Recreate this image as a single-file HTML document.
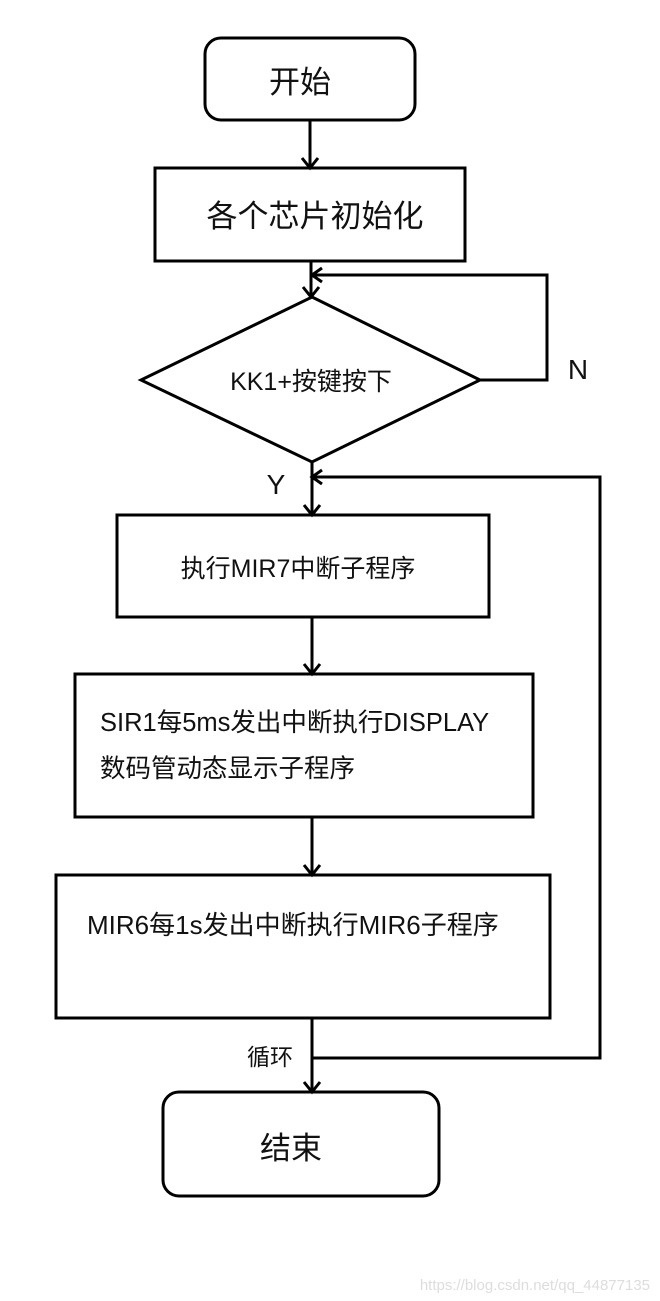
<!DOCTYPE html>
<html><head><meta charset="utf-8"><style>
body{margin:0;background:#fff;}
svg{display:block}
text{font-family:"Liberation Sans","Noto Sans CJK SC",sans-serif;fill:#111}
</style></head><body>
<svg width="660" height="1301" viewBox="0 0 660 1301" xmlns="http://www.w3.org/2000/svg">
<g fill="none" stroke="#000" stroke-width="3">
<rect x="205" y="38" width="210" height="82" rx="16"/>
<rect x="155" y="168" width="310" height="93"/>
<polygon points="312,297 480,380 312,462 141,380"/>
<rect x="117" y="515" width="372" height="102"/>
<rect x="75" y="674" width="458" height="143"/>
<rect x="56" y="875" width="494" height="143"/>
<rect x="163" y="1092" width="276" height="104" rx="16"/>
<path d="M310 120V168M302 158l8 10 8-10"/>
<path d="M311 261V297M303 287l8 10 8-10"/>
<path d="M480 380H547V275H312M322 268l-10 7 10 7"/>
<path d="M312 462V515M304 505l8 10 8-10"/>
<path d="M312 477H600V1058H312M322 470l-10 7 10 7"/>
<path d="M312 617V674M304 664l8 10 8-10"/>
<path d="M312 817V875M304 865l8 10 8-10"/>
<path d="M312 1018V1092M304 1082l8 10 8-10"/>
</g>
<text x="300" y="93" font-size="31" text-anchor="middle">开始</text>
<text x="315" y="227" font-size="31" text-anchor="middle">各个芯片初始化</text>
<text x="311" y="390" font-size="25" text-anchor="middle">KK1+按键按下</text>
<text x="578" y="379" font-size="28" text-anchor="middle">N</text>
<text x="276" y="494" font-size="28" text-anchor="middle">Y</text>
<text x="298" y="577" font-size="25" text-anchor="middle">执行MIR7中断子程序</text>
<text x="100" y="731" font-size="25.5">SIR1每5ms发出中断执行DISPLAY</text>
<text x="100" y="777" font-size="25.5">数码管动态显示子程序</text>
<text x="87" y="934" font-size="26">MIR6每1s发出中断执行MIR6子程序</text>
<text x="270" y="1065" font-size="23" text-anchor="middle">循环</text>
<text x="291" y="1159" font-size="31" text-anchor="middle">结束</text>
<text x="650" y="1290" font-size="15" text-anchor="end" style="fill:#ddd">https://blog.csdn.net/qq_44877135</text>
</svg>
</body></html>
